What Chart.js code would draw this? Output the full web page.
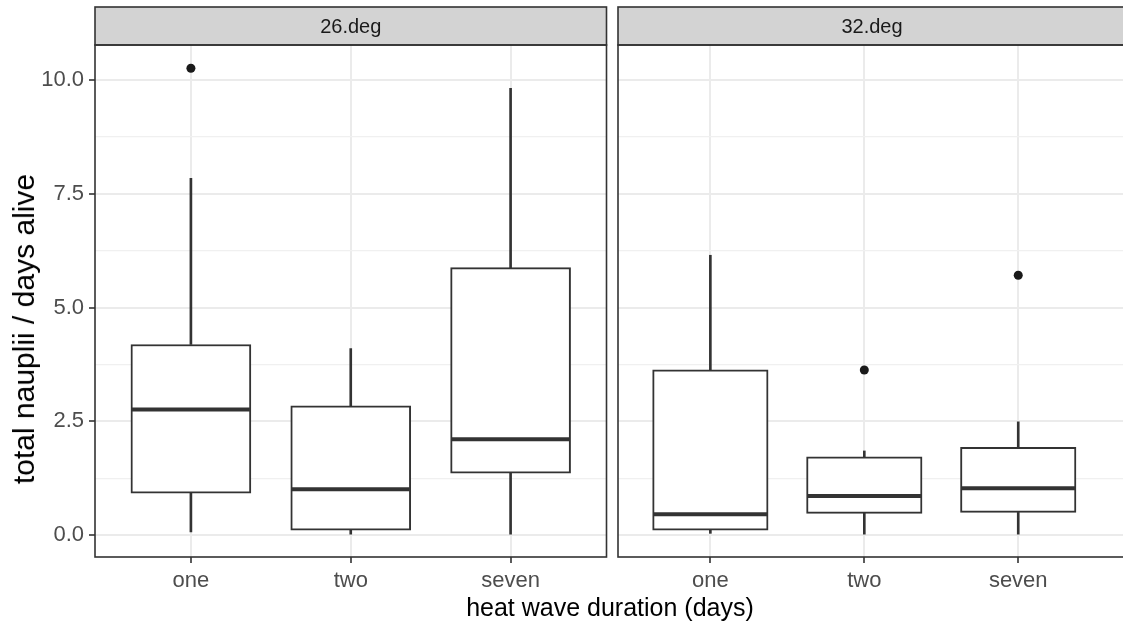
<!DOCTYPE html>
<html>
<head>
<meta charset="utf-8">
<script src="https://cdn.jsdelivr.net/npm/chart.js@4.4.0/dist/chart.umd.min.js"></script>
<style>
  html, body { margin: 0; padding: 0; background: #fff; overflow: hidden; }
  #wrap { position: relative; width: 1123px; height: 623px; overflow: hidden; background: #fff; font-family: "Liberation Sans", Arial, sans-serif; }
  canvas { position: absolute; top: 0; }
  #c26 { left: 0; }
  #c32 { left: 612px; }
  .title { position: absolute; color: #000; white-space: nowrap; }
  #xtitle { left: 0; width: 1220px; text-align: center; top: 593px; font-size: 25px; line-height: 28px; }
  #ytitle { left: 24px; top: 329px; font-size: 30px; line-height: 30px; transform: translate(-50%, -50%) rotate(-90deg); }
</style>
</head>
<body>
<div id="wrap">
  <canvas id="c26" width="612" height="623"></canvas>
  <canvas id="c32" width="520" height="623"></canvas>
  <div class="title" id="xtitle">heat wave duration (days)</div>
  <div class="title" id="ytitle">total nauplii / days alive</div>
</div>
<script>
// categories and facet labels
const categories = ['one', 'two', 'seven'];
const panels = ['26.deg', '32.deg'];

// y axis ticks (major + minor grid)
const yTickValues = [0, 1.25, 2.5, 3.75, 5, 6.25, 7.5, 8.75, 10];
const yTickLabels = ['0.0', '', '2.5', '', '5.0', '', '7.5', '', '10.0'];

// 26.deg boxplots
const lo26  = [0.07, 0.02, 0.00];
const q1_26 = [0.92, 0.11, 1.36];
const med26 = [2.76, 1.01, 2.11];
const q3_26 = [4.19, 2.84, 5.88];
const hi26  = [7.84, 4.10, 9.82];
const out26 = [[10.26], [], []];

// 32.deg boxplots
const lo32  = [0.04, 0.00, 0.00];
const q1_32 = [0.11, 0.48, 0.50];
const med32 = [0.46, 0.86, 1.03];
const q3_32 = [3.63, 1.72, 1.93];
const hi32  = [6.15, 1.85, 2.49];
const out32 = [[], [3.63], [5.71]];

const INK = '#333333';
const FONT = '"Liberation Sans", Arial, sans-serif';

// strip + panel border, drawn over the library's own chart area
const facetPlugin = {
  id: 'facet',
  afterDatasetsDraw(chart, args, opts) {
    const a = chart.chartArea, c = chart.ctx;
    c.save();
    c.fillStyle = '#D3D3D3';
    c.fillRect(a.left, 7, a.right - a.left, a.top - 7);
    c.strokeStyle = INK;
    c.lineWidth = 1.6;
    c.strokeRect(a.left, 7, a.right - a.left, a.top - 7);
    c.strokeRect(a.left, a.top, a.right - a.left, a.bottom - a.top);
    c.fillStyle = '#1A1A1A';
    c.font = '20px ' + FONT;
    c.textAlign = 'center';
    c.textBaseline = 'middle';
    c.fillText(opts.label, (a.left + a.right) / 2, 27);
    c.restore();
  }
};

function makeChart(id, label, lo, q1, med, q3, hi, out, o) {
  const pts = (arr) => arr.map((v, i) => ({ x: i + 1, y: v }));
  const rng = (a, b) => a.map((v, i) => ({ x: i + 1, y: [v, b[i]] }));
  const outPts = [];
  out.forEach((list, i) => list.forEach(v => outPts.push({ x: i + 1, y: v })));

  const whisker = { type: 'bar', grouped: false, barThickness: 2, backgroundColor: INK, borderWidth: 0, order: 4 };

  return new Chart(document.getElementById(id), {
    type: 'bar',
    data: {
      datasets: [
        { ...whisker, data: rng(lo, q1) },
        { ...whisker, data: rng(q3, hi) },
        { type: 'bar', grouped: false, data: rng(q1, q3), barThickness: o.boxW,
          backgroundColor: '#FFFFFF', borderColor: INK, borderWidth: 2, borderSkipped: false, order: 3 },
        { type: 'line', data: pts(med), showLine: false, pointStyle: 'line', pointRadius: o.boxW / 2 - 1,
          pointBorderColor: INK, pointBorderWidth: 4, order: 2 },
        { type: 'line', data: outPts, showLine: false, pointStyle: 'circle', pointRadius: 4.5,
          pointBackgroundColor: '#1A1A1A', pointBorderWidth: 0, order: 1 }
      ]
    },
    options: {
      responsive: false,
      devicePixelRatio: 1,
      animation: false,
      events: [],
      layout: { autoPadding: false, padding: { top: 45, right: o.padRight, bottom: 0, left: 0 } },
      plugins: { legend: { display: false }, tooltip: { enabled: false }, facet: { label: label } },
      scales: {
        x: {
          type: 'linear', min: 0.4, max: o.xMax, offset: false,
          afterBuildTicks: s => { s.ticks = categories.map((c, i) => ({ value: i + 1 })); },
          afterFit: s => { s.height = 66; },
          ticks: { callback: (v) => categories[v - 1], color: '#4D4D4D', font: { family: FONT, size: 22 }, padding: 5, maxRotation: 0 },
          grid: { offset: false, color: '#EBEBEB', lineWidth: 2, tickColor: INK, tickWidth: 1.6, tickLength: 6 },
          border: { display: false }
        },
        y: {
          type: 'linear', min: -0.48, max: 10.77,
          afterBuildTicks: s => { s.ticks = yTickValues.map(v => ({ value: v })); },
          afterFit: s => { s.width = o.yW; },
          ticks: { display: o.showY, callback: (v) => yTickLabels[yTickValues.indexOf(v)],
                   color: '#4D4D4D', font: { family: FONT, size: 22 }, padding: 5 },
          grid: {
            color: (c) => (c.tick && c.tick.value % 2.5 === 0) ? '#EBEBEB' : '#F0F0F0',
            lineWidth: (c) => (c.tick && c.tick.value % 2.5 === 0) ? 2 : 1.2,
            tickColor: (c) => (c.tick && c.tick.value % 2.5 === 0) ? INK : 'rgba(0,0,0,0)',
            tickWidth: 1.6, tickLength: 6, drawTicks: o.showY
          },
          border: { display: false }
        }
      }
    },
    plugins: [facetPlugin]
  });
}

makeChart('c26', panels[0], lo26, q1_26, med26, q3_26, hi26, out26,
  { boxW: 120, padRight: 5.5, xMax: 3.6, yW: 95, showY: true });
makeChart('c32', panels[1], lo32, q1_32, med32, q3_32, hi32, out32,
  { boxW: 115.5, padRight: 6, xMax: 3.7, yW: 6, showY: false });
</script>
</body>
</html>
